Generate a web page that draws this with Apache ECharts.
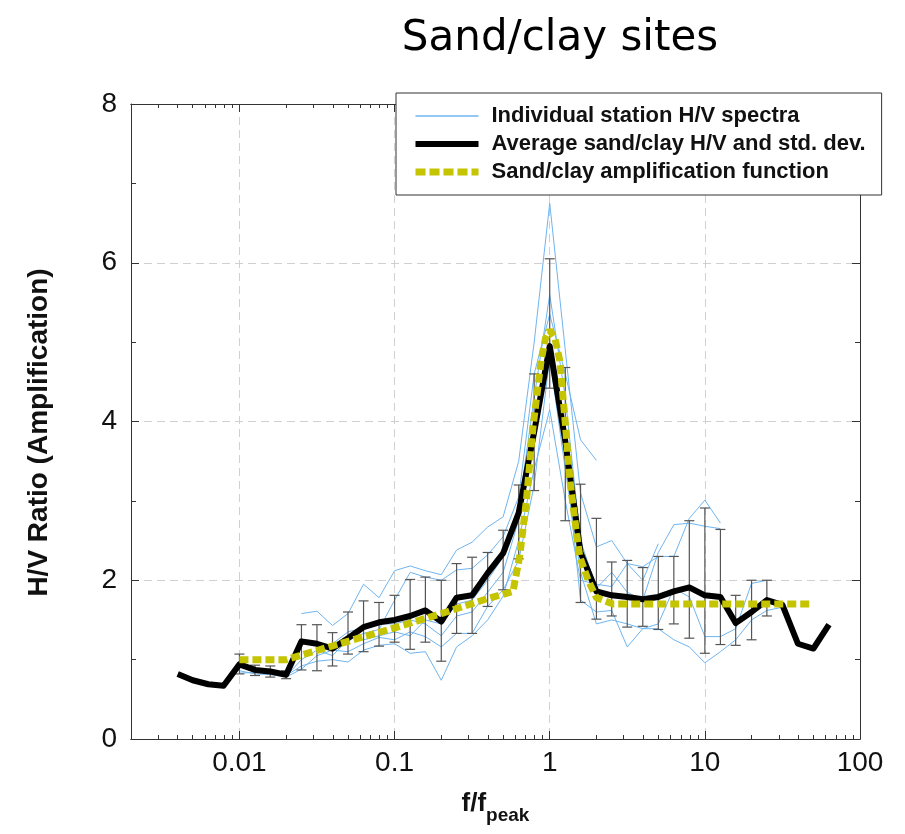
<!DOCTYPE html>
<html>
<head>
<meta charset="utf-8">
<script src="https://cdn.jsdelivr.net/npm/echarts@6/dist/echarts.min.js"></script>
<style>html,body{margin:0;padding:0;background:#fff}#c{width:905px;height:834px}</style>
</head>
<body>
<div id="c"></div>
<script>
// ---- data ----
const freq = [0.004,0.005,0.0063,0.0079,0.01,0.0126,0.0158,0.02,0.0251,0.0316,0.0398,0.0501,0.0631,0.0794,0.1,0.126,0.158,0.2,0.251,0.316,0.398,0.501,0.631,0.794,1,1.26,1.58,2,2.51,3.16,3.98,5.01,6.31,7.94,10,12.6,15.8,20,25.1,31.6,39.8,50.1,63.1];
const avgHV = [0.82,0.74,0.69,0.67,0.94,0.87,0.85,0.81,1.23,1.20,1.14,1.27,1.41,1.47,1.50,1.55,1.62,1.48,1.78,1.81,2.09,2.34,2.85,3.87,4.95,3.75,2.35,1.86,1.81,1.79,1.76,1.79,1.86,1.91,1.81,1.79,1.46,1.60,1.75,1.69,1.20,1.14,1.44];
const stdLo = [null,null,null,null,0.82,0.80,0.78,0.76,0.87,0.86,0.92,1.07,1.10,1.17,1.22,1.13,1.22,0.98,1.33,1.33,1.67,1.88,2.27,3.13,4.42,2.75,1.72,1.51,1.55,1.41,1.42,1.38,1.45,1.27,1.08,1.19,1.18,1.25,1.55,null,null,null,null];
const stdHi = [null,null,null,null,1.07,0.93,0.92,0.86,1.44,1.44,1.34,1.60,1.74,1.72,1.81,2.01,2.04,2.00,2.21,2.29,2.35,2.63,3.20,4.60,6.05,4.68,3.21,2.78,2.23,2.25,2.16,2.30,2.30,2.75,2.91,2.64,1.81,2.00,2.00,null,null,null,null];
const ampFreq  = [0.01,0.02,0.05,0.1,0.2,0.4,0.58,0.64,0.707,0.78,0.84,0.88,0.94,1,1.08,1.16,1.25,1.35,1.49,1.56,1.77,2.0,2.56,50];
const ampValue = [1.0,1.0,1.23,1.40,1.58,1.77,1.86,2.3,3.0,3.93,4.44,4.77,5.05,5.15,5.05,4.77,4.06,3.26,2.59,2.30,2.0,1.78,1.70,1.70];
const _ = null;
const station1 = [_,_,_,_,_,_,_,_,1.58,1.61,1.43,1.58,1.95,1.78,2.12,2.18,2.12,2.07,2.38,2.48,2.67,2.80,3.50,5.00,6.75,4.90,3.10,2.42,2.50,2.21,2.00,2.46,_,_,_,_,_,_,_,_,_,_,_];
const station2 = [_,_,_,_,0.86,0.82,0.81,0.79,1.00,1.12,1.05,1.25,1.33,1.38,1.75,2.10,2.04,2.00,2.13,2.15,2.32,2.55,3.05,4.60,5.35,4.60,3.77,3.51,_,_,_,_,_,_,_,_,_,_,_,_,_,_,_];
const station3 = [_,_,_,_,0.83,0.84,0.82,0.80,0.92,0.98,1.00,0.97,1.12,1.18,1.20,1.08,1.10,0.74,1.16,1.30,1.50,1.80,2.50,3.40,4.15,3.00,2.00,1.95,1.92,2.21,2.17,2.30,2.30,2.78,3.01,2.72,_,_,_,_,_,_,_];
const station4 = [_,_,_,_,_,_,_,0.78,0.88,1.05,1.12,1.10,1.20,1.28,1.25,1.35,1.29,1.16,1.33,1.33,1.67,1.88,2.25,3.20,4.80,3.40,2.10,1.45,1.50,1.45,1.39,1.39,1.25,1.16,0.96,1.10,1.25,1.50,1.62,1.66,_,_,_];
const station5 = [_,_,_,_,_,_,_,_,_,_,1.20,1.35,1.40,1.45,1.45,1.50,1.45,1.30,1.55,1.60,1.85,2.10,2.76,4.00,5.00,3.60,1.75,1.60,1.62,1.16,1.39,1.45,1.90,1.79,1.29,1.29,1.39,1.96,2.00,_,_,_,_];
const station6 = [_,_,_,_,_,_,_,_,_,_,_,_,1.25,1.30,1.35,1.30,1.50,1.45,1.70,1.75,2.00,2.30,2.90,4.30,5.60,4.30,2.50,1.90,2.10,1.85,1.75,2.35,2.70,2.72,2.68,2.65,_,_,_,_,_,_,_];
const xLabelTicks = [0.01,0.1,1,10,100];
const yTicks = [0,2,4,6,8];

const NAME_IND = 'Individual station H/V spectra';
const NAME_AVG = 'Average sand/clay H/V and std. dev.';
const NAME_AMP = 'Sand/clay amplification function';

// minor tick positions (2..9 x decade)
const xMinor = [];
[0.001,0.01,0.1,1,10].forEach(d => { for (let k = 2; k <= 9; k++) xMinor.push(+(k*d).toPrecision(3)); });

const pair = arr => freq.map((f,i) => [f, arr[i]]);
const stations = [station1,station2,station3,station4,station5,station6];
const errData = [];
freq.forEach((f,i) => { if (stdLo[i] != null) errData.push([f, stdLo[i], stdHi[i]]); });

const axisCol = '#333';
const labelFont = "'Liberation Sans', Arial, sans-serif";
const BLUE = '#6fb5f0', YEL = '#c4c400';

function xAx(pos, major, labels) {
  return {
    type: 'log', logBase: 10, min: 0.002, max: 100, position: pos, gridIndex: 0,
    axisLine: { show: true, lineStyle: { color: axisCol, width: 1 } },
    axisTick: { show: true, inside: true, length: major ? 8 : 4, customValues: major ? xLabelTicks : xMinor, lineStyle: { color: axisCol } },
    axisLabel: labels ? { show: true, customValues: xLabelTicks, formatter: v => String(+v.toPrecision(3)), fontSize: 28, color: '#111', fontFamily: labelFont, margin: 10 } : { show: false },
    splitLine: (major && labels) ? { show: true, lineStyle: { color: '#d0d0d0', type: [8,5], width: 1 } } : { show: false },
    minorTick: { show: false }
  };
}

const series = [];
stations.forEach(s => series.push({
  name: NAME_IND, type: 'line', data: pair(s), showSymbol: false, symbol: 'circle', connectNulls: false,
  lineStyle: { color: BLUE, width: 1 }, itemStyle: { color: BLUE }, z: 2, silent: true
}));
series.push({
  type: 'custom', name: 'std', data: errData, z: 3, silent: true,
  encode: { x: 0, y: [1,2] },
  renderItem: function (params, api) {
    const x = api.value(0), lo = api.value(1), hi = api.value(2);
    const a = api.coord([x, lo]), b = api.coord([x, hi]);
    const w = 5, st = { stroke: '#555', lineWidth: 1.2 };
    return { type: 'group', children: [
      { type: 'line', shape: { x1: a[0], y1: a[1], x2: b[0], y2: b[1] }, style: st },
      { type: 'line', shape: { x1: a[0]-w, y1: a[1], x2: a[0]+w, y2: a[1] }, style: st },
      { type: 'line', shape: { x1: b[0]-w, y1: b[1], x2: b[0]+w, y2: b[1] }, style: st }
    ]};
  }
});
series.push({
  name: NAME_AVG, type: 'line', data: pair(avgHV), showSymbol: false, symbol: 'circle',
  lineStyle: { color: '#000', width: 6, join: 'round' }, itemStyle: { color: '#000' }, z: 4, silent: true
});
series.push({
  name: NAME_AMP, type: 'line', data: ampFreq.map((f,i) => [f, ampValue[i]]), showSymbol: false, symbol: 'circle',
  lineStyle: { color: YEL, width: 7, type: [9,4] }, itemStyle: { color: YEL }, z: 5, silent: true
});

const chart = echarts.init(document.getElementById('c'), null, { renderer: 'canvas' });
chart.setOption({
  animation: false,
  backgroundColor: '#fff',
  title: {
    text: 'Sand/clay sites', left: 555, top: 13, textAlign: 'center',
    textStyle: { fontFamily: "'DejaVu Sans', sans-serif", fontSize: 42, fontWeight: 'normal', color: '#000' }
  },
  grid: { left: 131, right: 45, top: 104, bottom: 95, containLabel: false },
  legend: {
    data: [
      { name: NAME_IND, lineStyle: { width: 1.5, color: BLUE } },
      { name: NAME_AVG, lineStyle: { width: 6, color: '#000' } },
      { name: NAME_AMP, lineStyle: { width: 7, color: YEL, type: [10,4] } }
    ],
    orient: 'vertical', left: 396, top: 93,
    padding: [12, 16, 12, 16], itemGap: 6, itemWidth: 63, itemHeight: 14,
    backgroundColor: '#fff', borderColor: '#333', borderWidth: 1, borderRadius: 0,
    itemStyle: { opacity: 0 },
    textStyle: { fontFamily: labelFont, fontWeight: 'bold', fontSize: 22, lineHeight: 22, color: '#111', padding: [0,0,0,8] },
    selectedMode: false, z: 10
  },
  xAxis: [
    Object.assign(xAx('bottom', true, true), {
      name: '{a|f/f}{b|peak}', nameLocation: 'middle', nameGap: 52,
      nameTextStyle: { rich: {
        a: { fontFamily: labelFont, fontWeight: 'bold', fontSize: 26, color: '#111', verticalAlign: 'top', lineHeight: 28 },
        b: { fontFamily: labelFont, fontWeight: 'bold', fontSize: 19, color: '#111', verticalAlign: 'top', padding: [15,0,0,0], lineHeight: 28 }
      } }
    }),
    xAx('bottom', false, false),
    xAx('top', true, false),
    xAx('top', false, false)
  ],
  yAxis: [
    {
      type: 'value', min: 0, max: 8, interval: 2, position: 'left',
      name: 'H/V Ratio (Amplification)', nameLocation: 'middle', nameGap: 78, nameRotate: 90,
      nameTextStyle: { fontFamily: labelFont, fontWeight: 'bold', fontSize: 28, color: '#111', padding: [0, 22, 0, 0] },
      axisLine: { show: true, lineStyle: { color: axisCol } },
      axisTick: { show: true, inside: true, length: 8, lineStyle: { color: axisCol } },
      minorTick: { show: true, splitNumber: 2, length: 5, lineStyle: { color: axisCol } },
      axisLabel: { fontSize: 28, color: '#111', fontFamily: labelFont, margin: 14, customValues: yTicks },
      splitLine: { show: true, lineStyle: { color: '#d0d0d0', type: [8,5] } }
    },
    {
      type: 'value', min: 0, max: 8, interval: 2, position: 'right',
      axisLine: { show: true, lineStyle: { color: axisCol } },
      axisTick: { show: true, inside: true, length: 8, lineStyle: { color: axisCol } },
      minorTick: { show: true, splitNumber: 2, length: 5, lineStyle: { color: axisCol } },
      axisLabel: { show: false }, splitLine: { show: false }
    }
  ],
  series: series
});
</script>
</body>
</html>
